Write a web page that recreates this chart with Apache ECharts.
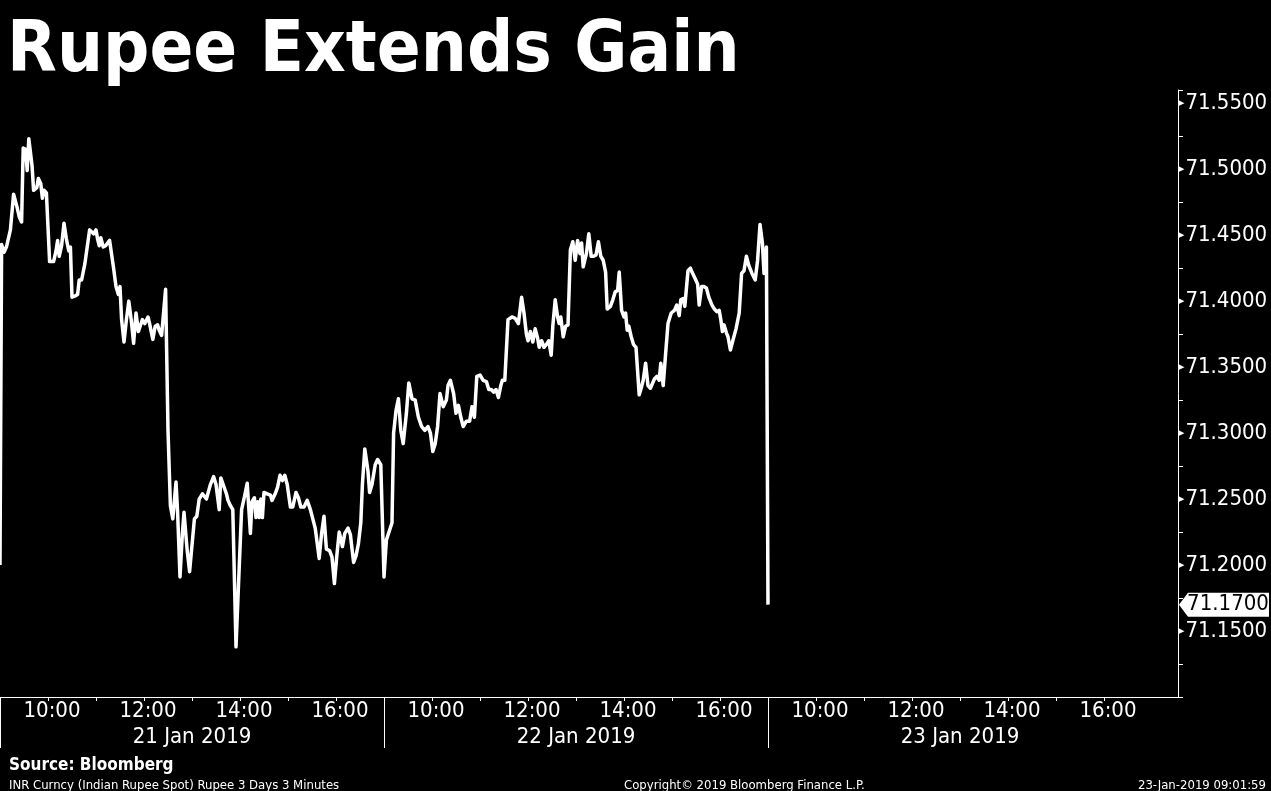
<!DOCTYPE html>
<html><head><meta charset="utf-8">
<script src="https://cdn.jsdelivr.net/npm/echarts@6/dist/echarts.min.js"></script>
<style>html,body{margin:0;padding:0;background:#000;}#c{width:1271px;height:791px;}</style>
</head><body><div id="c"></div>
<script>
// ---- data ----
const dayLabels = ['21 Jan 2019', '22 Jan 2019', '23 Jan 2019'];
const timeTickLabels = ['10:00', '12:00', '14:00', '16:00'];
const lastPrice = 71.17;
// minutes since 09:00 session open, INR spot
const day1Min = [0,2,5,8,13,17,21,24,27,29,32,34,36,40,42,46,48,51,53,55,58,62,67,70,72,74,77,80,83,86,88,90,94,97,99,102,106,112,117,120,122,124,126,129,132,137,142,145,148,150,152,155,158,161,164,167,170,173,175,178,181,185,187,191,194,197,199,202,204,207,208,210,213,216,220,222,225,228,230,234,237,243,246,249,253,258,260,263,267,270,274,276,279,283,285,288,291,295,299,302,306,309,313,315,318,320,322,324,326,328,330,334,338,340,344,347,350,353,356,359,363,366,370,373,376,380,384,388,391,394,396,399,402,405,408,412,415,418,421,424,426,428,431,435,438,442,445,448,451,453,456,460,462,465,469,472,476,478];
const day1Val = [71.200,71.443,71.437,71.441,71.454,71.481,71.472,71.464,71.460,71.516,71.515,71.499,71.523,71.503,71.484,71.486,71.493,71.489,71.478,71.484,71.482,71.430,71.430,71.438,71.446,71.434,71.442,71.459,71.447,71.438,71.441,71.403,71.404,71.405,71.416,71.416,71.428,71.454,71.451,71.454,71.447,71.442,71.448,71.441,71.442,71.446,71.425,71.411,71.405,71.411,71.386,71.369,71.386,71.400,71.386,71.368,71.391,71.377,71.378,71.386,71.383,71.388,71.383,71.371,71.381,71.382,71.378,71.374,71.373,71.409,71.373,71.302,71.245,71.235,71.263,71.240,71.191,71.224,71.240,71.211,71.195,71.235,71.237,71.250,71.254,71.250,71.249,71.261,71.267,71.261,71.242,71.266,71.261,71.254,71.249,71.245,71.242,71.138,71.198,71.242,71.253,71.262,71.224,71.248,71.251,71.236,71.248,71.236,71.250,71.236,71.255,71.254,71.253,71.249,71.254,71.259,71.268,71.264,71.268,71.261,71.244,71.244,71.255,71.251,71.244,71.244,71.249,71.242,71.235,71.228,71.227,71.205,71.224,71.237,71.212,71.211,71.206,71.186,71.207,71.225,71.220,71.214,71.224,71.228,71.223,71.202,71.207,71.216,71.232,71.261,71.288,71.271,71.255,71.261,71.276,71.280,71.276,71.276];
const day2Min = [0,3,10,12,15,18,21,24,28,31,35,39,43,47,51,55,58,61,64,67,70,74,78,80,83,87,90,93,96,99,103,107,110,113,116,120,124,128,131,134,137,140,143,146,148,151,155,160,164,168,172,175,178,180,183,186,189,192,194,197,200,204,206,209,211,214,217,219,221,224,227,230,233,236,239,242,245,247,249,253,256,259,262,265,268,271,274,277,279,283,286,289,292,294,297,300,302,304,306,309,312,315,319,321,324,327,330,333,335,338,341,344,346,349,352,355,359,363,366,369,371,374,376,380,383,385,389,392,394,397,400,403,406,410,413,416,419,421,423,425,428,430,433,436,440,444,447,450,453,456,460,464,467,470,473,475,478];
const day2Val = [71.191,71.219,71.232,71.300,71.317,71.326,71.302,71.292,71.315,71.338,71.326,71.325,71.312,71.305,71.302,71.305,71.300,71.286,71.292,71.305,71.330,71.320,71.325,71.336,71.340,71.330,71.315,71.321,71.312,71.305,71.309,71.309,71.320,71.312,71.343,71.344,71.340,71.339,71.333,71.333,71.331,71.333,71.327,71.336,71.340,71.340,71.386,71.388,71.387,71.383,71.403,71.391,71.375,71.370,71.377,71.369,71.379,71.372,71.365,71.370,71.365,71.368,71.370,71.359,71.381,71.401,71.388,71.383,71.388,71.373,71.381,71.382,71.439,71.445,71.431,71.446,71.436,71.444,71.426,71.436,71.451,71.434,71.434,71.435,71.445,71.434,71.431,71.422,71.394,71.396,71.401,71.407,71.408,71.422,71.393,71.388,71.391,71.378,71.381,71.373,71.367,71.365,71.329,71.333,71.340,71.353,71.336,71.334,71.333,71.341,71.343,71.340,71.353,71.336,71.360,71.383,71.391,71.393,71.397,71.389,71.401,71.402,71.396,71.423,71.425,71.422,71.417,71.413,71.397,71.411,71.411,71.410,71.403,71.397,71.394,71.392,71.393,71.386,71.377,71.382,71.376,71.373,71.363,71.370,71.379,71.391,71.421,71.423,71.434,71.427,71.421,71.416,71.431,71.458,71.444,71.421,71.441];
const day3Min = [0];
const day3Val = [71.17];

// ---- build ----
const SESSION = 480; // 09:00-17:00
const seriesData = [];
[[day1Min, day1Val], [day2Min, day2Val], [day3Min, day3Val]].forEach(([m, v], d) => {
  m.forEach((t, i) => seriesData.push([d * SESSION + t, v[i]]));
});
const timeLabelPos = [], timeLabelText = {};
dayLabels.forEach((_, d) => timeTickLabels.forEach(s => {
  const p = d * SESSION + (parseInt(s, 10) - 9) * 60;
  timeLabelPos.push(p); timeLabelText[p] = s;
}));
const hourTicks = [];
for (let p = 60; p <= SESSION * dayLabels.length; p += 60) if (p % SESSION) hourTicks.push(p);
const dayCenters = dayLabels.map((_, d) => d * SESSION + SESSION / 2);
const dayBounds = dayLabels.map((_, d) => d * SESSION);
const XMAX = 1472.5;

const F = "'DejaVu Sans Condensed', 'DejaVu Sans', sans-serif";
const chart = echarts.init(document.getElementById('c'), null, { renderer: 'canvas' });
chart.setOption({
  backgroundColor: '#000',
  animation: false,
  title: [
    { text: 'Rupee Extends Gain', left: 2, top: 11, textStyle: { color: '#fff', fontSize: 72, fontWeight: 'bold', fontFamily: F } },
    { text: 'Source: Bloomberg', left: 4, top: 752, textStyle: { color: '#fff', fontSize: 17, fontWeight: 'bold', fontFamily: F } },
    { text: 'INR Curncy (Indian Rupee Spot) Rupee 3 Days 3 Minutes', left: 4, top: 774, textStyle: { color: '#fff', fontSize: 13, fontWeight: 'normal', fontFamily: F } },
    { text: 'Copyright\u00a9 2019 Bloomberg Finance L.P.', left: 619, top: 774, textStyle: { color: '#fff', fontSize: 13, fontWeight: 'normal', fontFamily: F } },
    { text: '23-Jan-2019 09:01:59', right: 0, top: 774, textStyle: { color: '#fff', fontSize: 13, fontWeight: 'normal', fontFamily: F } }
  ],
  grid: { left: 0, right: 93, top: 90, bottom: 94, containLabel: false },
  xAxis: [
    {
      type: 'value', min: 0, max: XMAX, position: 'bottom',
      axisLine: { show: true, onZero: false, lineStyle: { color: '#fff', width: 1 } },
      splitLine: { show: false },
      axisTick: { show: true, customValues: hourTicks, length: 4, lineStyle: { color: '#fff' } },
      axisLabel: { show: true, customValues: timeLabelPos, formatter: v => timeLabelText[Math.round(v)] || '',
        color: '#fff', fontSize: 22, fontFamily: F, margin: 3, padding: [0, 0, 0, 8] }
    },
    {
      type: 'value', min: 0, max: XMAX, position: 'bottom',
      axisLine: { show: false, onZero: false }, splitLine: { show: false },
      axisTick: { show: true, customValues: dayBounds, length: 51, lineStyle: { color: '#fff' } },
      axisLabel: { show: true, customValues: dayCenters, formatter: v => dayLabels[Math.floor(v / SESSION)] || '',
        color: '#fff', fontSize: 22, fontFamily: F, margin: 29 }
    }
  ],
  yAxis: {
    type: 'value', position: 'right', min: 71.10, max: 71.56, interval: 0.025,
    axisLine: { show: true, onZero: false, lineStyle: { color: '#fff', width: 1 } },
    splitLine: { show: false },
    axisTick: { show: true, length: 5, lineStyle: { color: '#fff' } },
    axisLabel: {
      show: true, margin: 1, showMaxLabel: true, showMinLabel: true,
      formatter: v => {
        const k = Math.round(v * 1000);
        if (k % 50 !== 0 || k <= 71100) return '';
        return '{a|\u25B6}{b|' + (k / 1000).toFixed(4) + '}';
      },
      rich: {
        a: { fontSize: 7, color: '#fff', fontFamily: 'DejaVu Sans', padding: [0, 1, 0, 0] },
        b: { fontSize: 22, color: '#fff', fontFamily: F }
      }
    }
  },
  series: [{
    type: 'line', xAxisIndex: 0, data: seriesData, symbol: 'none', showSymbol: false,
    lineStyle: { color: '#fff', width: 3.5, join: 'round' }, silent: true,
    markPoint: {
      silent: true, symbol: 'path://M0,12L9,0L90,0L90,24L9,24Z', symbolSize: [90, 24], symbolKeepAspect: false,
      symbolOffset: [46, 0], itemStyle: { color: '#fff' },
      label: { show: true, position: 'inside', color: '#000', fontSize: 22, fontFamily: F, offset: [4, 0],
        formatter: () => lastPrice.toFixed(4) },
      data: [{ coord: [XMAX, lastPrice] }]
    }
  }]
});
</script></body></html>
